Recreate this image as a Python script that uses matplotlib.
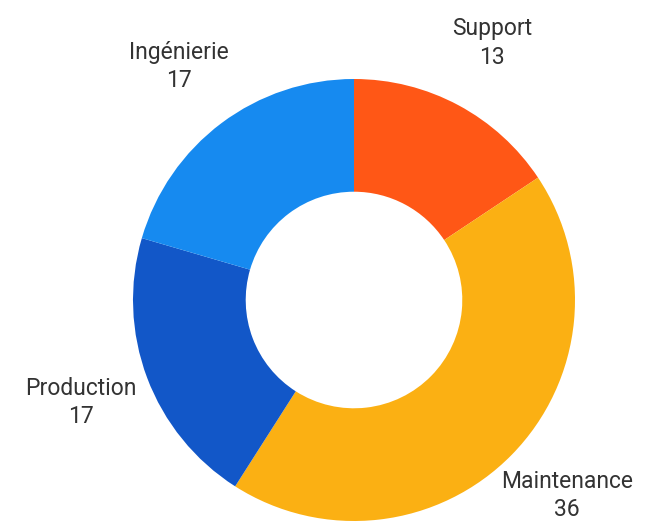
import matplotlib.pyplot as plt

labels = ['Support', 'Maintenance', 'Production', 'Ingénierie']
values = [13, 36, 17, 17]
colors = ['#FF5716', '#FBB013', '#1257C8', '#168AF0']

plt.rcParams['font.family'] = ['Roboto', 'DejaVu Sans']

fig = plt.figure(figsize=(6.46, 5.26), dpi=100)
ax = fig.add_axes([(354 - 221) / 646, (526 - 300 - 221) / 526, 442 / 646, 442 / 526])

texts = ax.pie(values, labels=[f'{l}\n{v}' for l, v in zip(labels, values)],
               colors=colors, startangle=90, counterclock=False,
               labeldistance=1.32, radius=1.0,
               wedgeprops=dict(width=0.51, linewidth=0),
               textprops=dict(fontsize=16.5, color='#333333',
                              linespacing=1.3))[1]
for t in texts:
    t.set_ha('center')
    t.set_va('center')
# keep the bottom label inside the canvas
x, y = texts[1].get_position()
texts[1].set_position((x + 0.02, y + 0.04))
ax.set_xlim(-1, 1)
ax.set_ylim(-1, 1)
ax.set_aspect('equal')
ax.axis('off')

fig.savefig('out.png', dpi=100)
